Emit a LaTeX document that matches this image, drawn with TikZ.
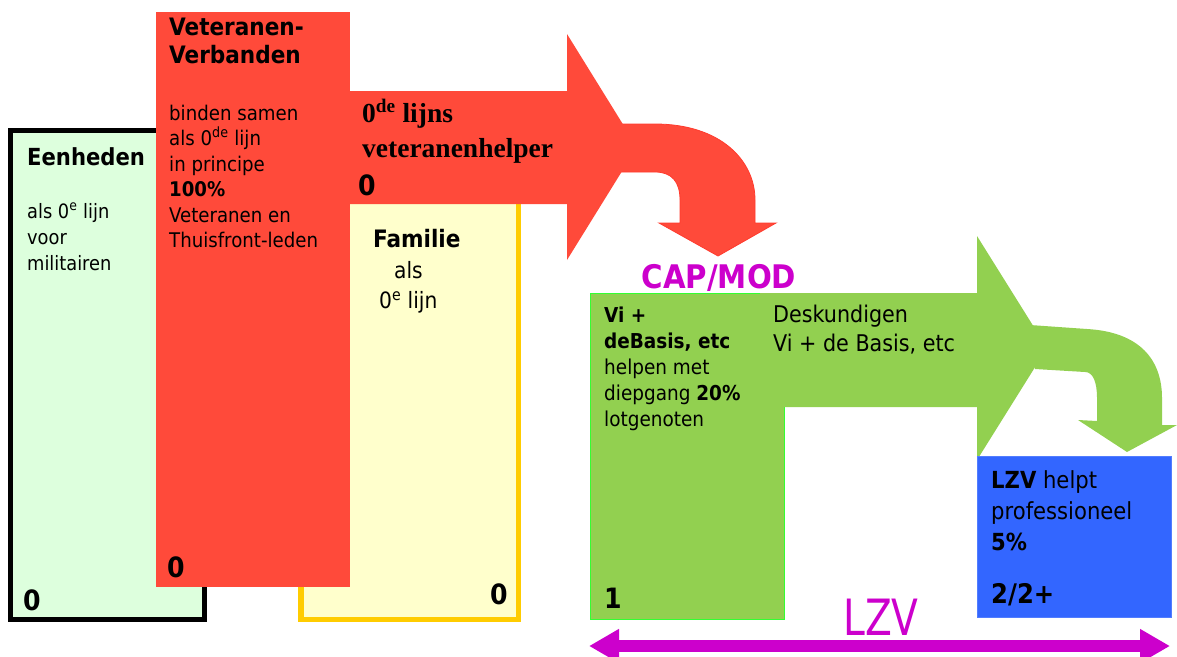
\documentclass[tikz,border=0pt]{standalone}
\usepackage{fontspec}
\setmainfont{DejaVu Sans Condensed}
\newfontfamily\timesfont{Liberation Serif}
\usetikzlibrary{arrows.meta}

\definecolor{eenhgreen}{RGB}{221,255,221}
\definecolor{vetred}{RGB}{255,74,58}
\definecolor{famyellow}{RGB}{255,255,204}
\definecolor{famborder}{RGB}{255,204,0}
\definecolor{capgreen}{RGB}{146,208,80}
\definecolor{capborder}{RGB}{51,255,51}
\definecolor{lzvblue}{RGB}{51,102,255}
\definecolor{lzvmagenta}{RGB}{204,0,204}
\newcommand{\sz}[2]{\fontsize{#1}{#2}\selectfont}

\begin{document}
\begin{tikzpicture}[x=1pt,y=-1pt,
    txt/.style={inner sep=0pt,anchor=base west,align=left},
    nul/.style={txt,font=\sz{28}{28}\bfseries}]
    \useasboundingbox (0,0) rectangle (1177,656);

    \coordinate (E1) at (10.5,130.5);
    \coordinate (E2) at (204.5,619.5);
    \coordinate (F1) at (301,200);
    \coordinate (F2) at (518.5,619.5);
    \coordinate (V1) at (156,12);
    \coordinate (V2) at (350,587);
    \coordinate (C1) at (590,293);
    \coordinate (C2) at (784,619);
    \coordinate (L1) at (977,456);
    \coordinate (L2) at (1171,617);

    \draw[line width=5pt,fill=eenhgreen] (E1) rectangle (E2);
    \draw[line width=5.5pt,draw=famborder,fill=famyellow] (F1) rectangle (F2);
    \fill[vetred] (V1) rectangle (V2);

    \draw[vetred!80!red,line width=0.8pt,fill=vetred] (620,124) -- (655,124) .. controls (720,124) and (755,160) .. (755,200)
        -- (755,223) -- (776,223) -- (718,256) -- (659,223) -- (680,223) -- (680,200)
        .. controls (680,182) and (672,172) .. (655,172) -- (620,172) -- cycle;
    \fill[vetred] (350,91) -- (567,91) -- (567,34) -- (637,147) -- (567,260) -- (567,204) -- (350,204) -- cycle;

    \draw[capborder,line width=1pt,fill=capgreen] (C1) rectangle (C2);
    \fill[capgreen] (1030,325) -- (1087,329) .. controls (1140,332) and (1162,360) .. (1162,398)
        -- (1162,425) -- (1177,425) -- (1127,452) -- (1078,420) -- (1097,421) -- (1097,398)
        .. controls (1097,382) and (1093,372) .. (1085,372) -- (1035,369) -- cycle;
    \fill[capgreen] (760,293) -- (977,293) -- (977,236) -- (1047,348) -- (977,460) -- (977,407) -- (760,407) -- cycle;

    \draw[lzvblue!85!white,line width=0.8pt,fill=lzvblue] (L1) rectangle (L2);

    % multi-line texts sit on the baseline of their last line
    \node[txt,font=\sz{23.5}{26}\bfseries] (eenh) at (27,165) {Eenheden};
    \node[txt,font=\sz{19.8}{26}] (eenhtxt) at (27,270) {als 0\textsuperscript{e} lijn\\voor\\militairen};
    \node[nul] (eenhnul) at (23,610) {0};

    \node[txt,font=\sz{24}{28}\bfseries] (vet) at (169,63) {Veteranen-\\Verbanden};
    \node[txt,font=\sz{20.2}{25.5}] (vettxt) at (169,247.5) {binden samen\\als 0\textsuperscript{de} lijn\\in principe\\\textbf{100\%}\\Veteranen en\\Thuisfront-leden};
    \node[nul] (vetnul) at (167,577) {0};

    \node[txt,font=\sz{27.5}{35}\timesfont\bfseries] (helper) at (362,157) {0\textsuperscript{de} lijns\\veteranenhelper};
    \node[nul] (helpernul) at (358,195) {0};

    \node[txt,font=\sz{24}{30}\bfseries] (fam) at (373,247) {Familie};
    \node[txt,font=\sz{22.5}{30}] (famals) at (394,278) {als};
    \node[txt,font=\sz{22.5}{30}] (famlijn) at (379,308) {0\textsuperscript{e} lijn};
    \node[nul] (famnul) at (490,604) {0};

    \node[inner sep=0pt,anchor=base,text=lzvmagenta,font=\sz{32.5}{32}\bfseries] (cap) at (719,288) {CAP/MOD};
    \node[txt,font=\sz{20.5}{26}] (vi) at (604,426) {\textbf{Vi +}\\\textbf{deBasis, etc}\\helpen met\\diepgang \textbf{20\%}\\lotgenoten};
    \node[nul] (vinul) at (604,608) {1};
    \node[txt,font=\sz{23}{29}] (desk) at (773,351) {Deskundigen\\Vi + de Basis, etc};

    \node[txt,font=\sz{23.5}{31}] (lzv) at (991,550) {\textbf{LZV} helpt\\professioneel\\\textbf{5\%}};
    \node[txt,font=\sz{27}{27}\bfseries] (lzvnul) at (991,603) {2/2+};

    \coordinate (lzvL) at (589,646);
    \coordinate (lzvR) at (1170,646);
    \draw[lzvmagenta,line width=12pt,{Triangle[length=30pt,width=32pt]}-{Triangle[length=30pt,width=32pt]}] (lzvL) -- (lzvR);
    \node[inner sep=0pt,anchor=base,text=lzvmagenta,font=\sz{50}{50},xscale=0.87,transform shape] (lzvtxt) at (881,635) {LZV};
\end{tikzpicture}
\end{document}
